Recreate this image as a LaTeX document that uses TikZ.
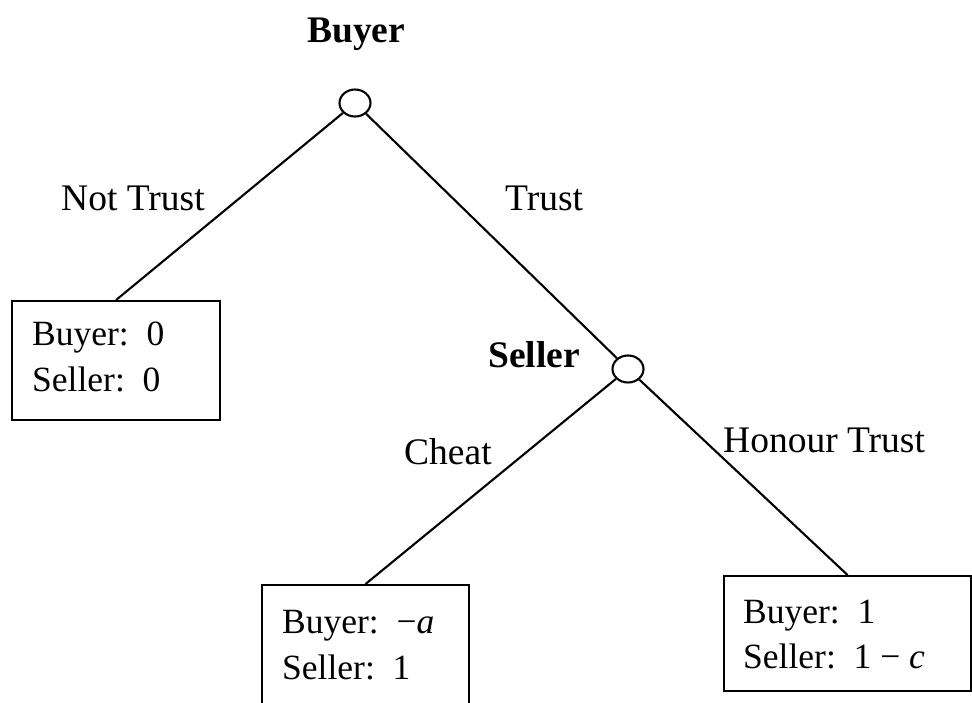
\documentclass[tikz,border=0pt]{standalone}
\usepackage{fontspec}
\setmainfont{Liberation Serif}
\usetikzlibrary{shapes.geometric}
\tikzset{
  dnode/.style={draw, ellipse, line width=2.1pt, minimum width=31pt, minimum height=27pt, inner sep=0pt},
  edge/.style={line width=2.1pt},
  paybox/.style={draw, rectangle, line width=2.1pt, inner sep=0pt, anchor=north west},
  paytext/.style={anchor=base west, inner sep=0pt, font=\fontsize{35.5}{42}\selectfont},
  lbl/.style={anchor=base west, inner sep=0pt, font=\fontsize{37.5}{44}\selectfont},
  player/.style={anchor=base west, inner sep=0pt, font=\fontsize{37.5}{44}\selectfont\bfseries}
}
\begin{document}
\begin{tikzpicture}[x=1pt,y=-1pt]
\clip (0,0) rectangle (972,702);
\fill[white] (0,0) rectangle (972,702);
% decision nodes
\node[dnode] (b) at (355,103) {};
\node[dnode] (s) at (628,369) {};
% payoff boxes
\node[paybox, minimum width=208pt, minimum height=119pt] (nt) at (11,300) {};
\node[paybox, minimum width=207pt, minimum height=160pt] (ch) at (261,584) {};
\node[paybox, minimum width=247pt, minimum height=115pt] (ho) at (723,575) {};
% connectors
\draw[edge] (b) -- (nt.north);
\draw[edge] (b) -- (s);
\draw[edge] (s) -- (ch.north);
\draw[edge] (s) -- (ho.north);
% player labels
\node[player] (pb) at (307,42) {Buyer};
\node[player] (ps) at (488,367) {Seller};
% action labels
\node[lbl] (lnt) at (61,210) {Not Trust};
\node[lbl] (ltr) at (505,210) {Trust};
\node[lbl] (lch) at (404,464) {Cheat};
\node[lbl] (lho) at (723,452) {Honour Trust};
% payoff texts
\node[paytext] (t1) at (32,345) {Buyer:\ \ 0};
\node[paytext] (t2) at (32,391) {Seller:\ \ 0};
\node[paytext] (t3) at (282,633) {Buyer:\ \ −\textit{a}};
\node[paytext] (t4) at (282,679) {Seller:\ \ 1};
\node[paytext] (t5) at (743,623) {Buyer:\ \ 1};
\node[paytext] (t6) at (743,668) {Seller:\ \ 1 − \textit{c}};
\end{tikzpicture}
\end{document}
